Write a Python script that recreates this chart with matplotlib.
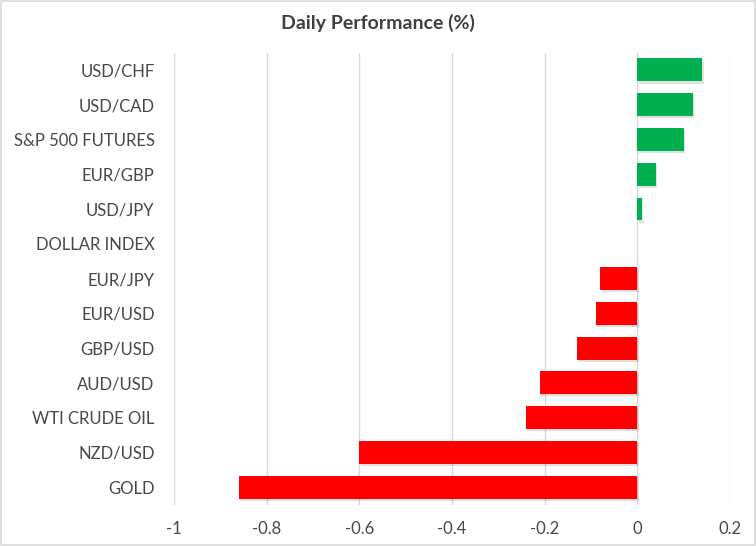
import matplotlib
matplotlib.use("Agg")
import matplotlib.pyplot as plt
import matplotlib.patheffects as pe
from matplotlib.patches import Rectangle

categories = ["USD/CHF", "USD/CAD", "S&P 500 FUTURES", "EUR/GBP", "USD/JPY",
              "DOLLAR INDEX", "EUR/JPY", "EUR/USD", "GBP/USD", "AUD/USD",
              "WTI CRUDE OIL", "NZD/USD", "GOLD"]
values = [0.14, 0.12, 0.10, 0.04, 0.01, 0.0, -0.08, -0.09, -0.13, -0.21,
          -0.24, -0.60, -0.86]
xticks = [-1, -0.8, -0.6, -0.4, -0.2, 0, 0.2]
xticklabels = ["-1", "-0.8", "-0.6", "-0.4", "-0.2", "0", "0.2"]
title = "Daily Performance (%)"

plt.rcParams['font.family'] = ['Lato', 'DejaVu Sans']

fig = plt.figure(figsize=(7.56, 5.46), dpi=100)
ax = fig.add_axes([0.2302, 0.076, 0.7354, 0.8277])

colors = ["#00B050" if v > 0 else "#FF0000" for v in values]
ypos = list(range(len(categories)))[::-1]
bars = ax.barh(ypos, values, height=0.66, color=colors, zorder=3)
for b in bars:
    b.set_path_effects([pe.SimplePatchShadow(offset=(1.0, -1.5), alpha=0.12, shadow_rgbFace='#000000'), pe.Normal()])

ax.set_xlim(-1, 0.2)
ax.set_ylim(-0.5, len(categories) - 0.5)
ax.set_xticks(xticks)
ax.set_xticklabels(xticklabels)
ax.set_yticks(ypos)
ax.set_yticklabels(categories)
ax.tick_params(axis='both', length=0, labelsize=12, colors="#484848")
ax.tick_params(axis='x', pad=12)
ax.tick_params(axis='y', pad=14)
ax.grid(axis='x', color="#D9D9D9", linewidth=1, zorder=0)
for s in ax.spines.values():
    s.set_visible(False)

fig.text(0.5, 0.958, title, ha='center', va='center', fontsize=14,
         fontweight='bold', color="#404040")

fig.patches.append(Rectangle((0.001, 0.001), 0.998, 0.998, transform=fig.transFigure,
                             fill=False, edgecolor="#D9D9D9", linewidth=1.2))

fig.savefig("out.png", dpi=100, facecolor="white")
